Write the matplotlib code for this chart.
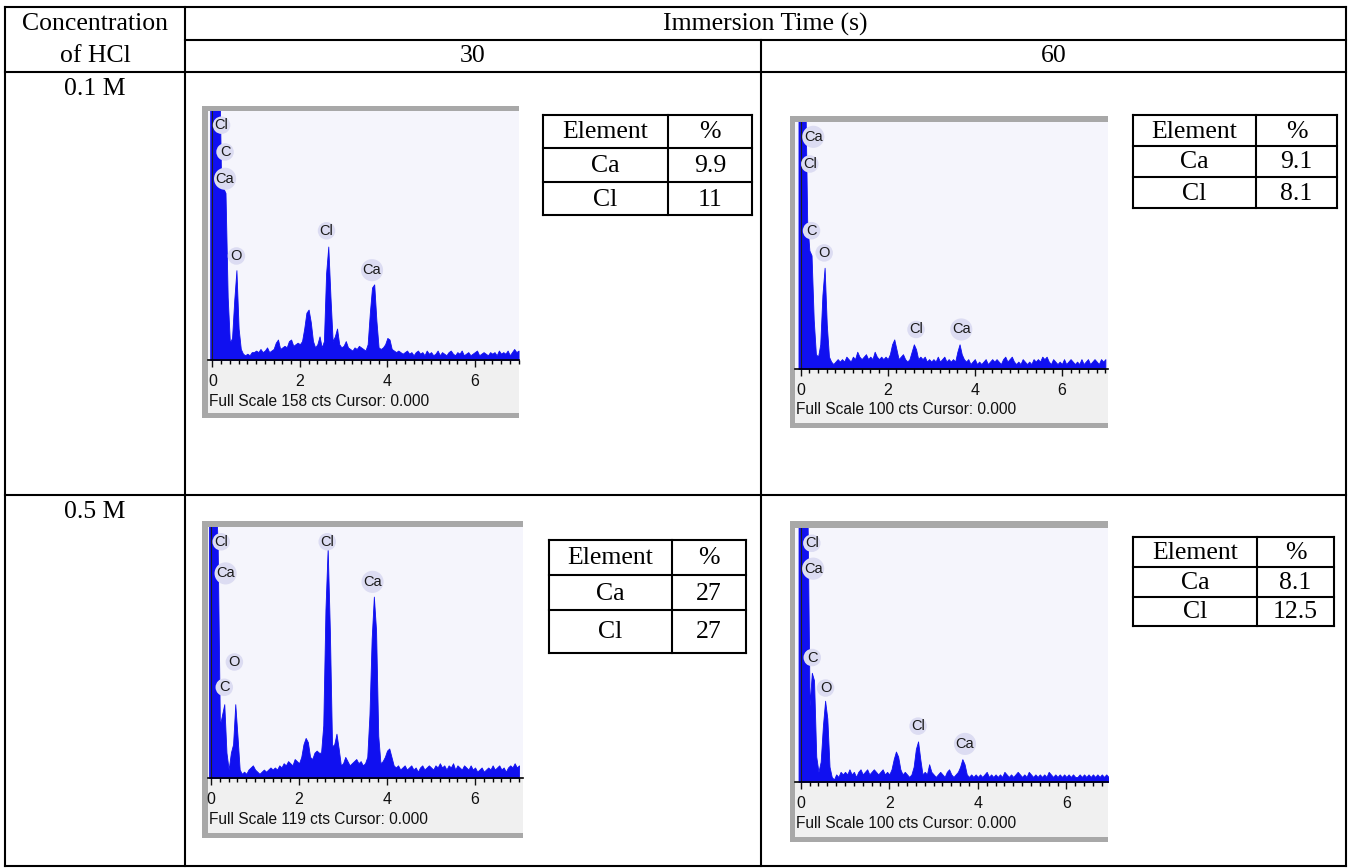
import numpy as np
import matplotlib
matplotlib.use('Agg')
import matplotlib.pyplot as plt
from matplotlib.patches import Rectangle
from matplotlib.ticker import MultipleLocator

# ---------------- data ----------------
row_labels = ["0.1 M", "0.5 M"]
col_labels = ["30", "60"]
header_left = ["Concentration", "of HCl"]
header_top = "Immersion Time (s)"

# element composition tables (%)
ca_pct = [["9.9", "9.1"], ["27", "8.1"]]
cl_pct = [["11", "8.1"], ["27", "12.5"]]

# full scale counts of each spectrum
full_scale = [[158, 100], [119, 100]]

# channel energies (keV)
energy = np.round(np.arange(-0.05, 7.0001, 0.05), 2)

spec_01_30 = [
    200, 200, 200, 200, 200, 112, 109, 106, 40, 11,
    14, 38, 57, 20, 7, 4, 3, 4, 3, 5,
    5, 6, 5, 7, 5, 6, 8, 5, 6, 7,
    11, 13, 7, 8, 9, 8, 12, 13, 9, 10,
    11, 10, 12, 20, 30, 32, 24, 12, 8, 10,
    15, 8, 12, 55, 72, 40, 12, 15, 20, 10,
    8, 9, 12, 8, 7, 6, 8, 7, 9, 8,
    7, 6, 10, 30, 46, 48, 25, 8, 7, 8,
    10, 14, 13, 7, 6, 5, 6, 5, 4, 5,
    6, 4, 5, 3, 5, 6, 4, 5, 3, 6,
    4, 5, 3, 4, 6, 3, 5, 4, 3, 5,
    6, 4, 3, 5, 4, 6, 3, 4, 5, 3,
    4, 5, 6, 3, 4, 5, 4, 3, 5, 4,
    5, 3, 6, 4, 5, 4, 6, 3, 5, 7,
    5, 6]

spec_01_60 = [
    120, 120, 120, 120, 60, 48, 46, 20, 6, 5,
    10, 30, 41, 18, 5, 3, 2, 3, 4, 3,
    4, 3, 5, 4, 3, 5, 4, 7, 5, 4,
    5, 6, 4, 5, 4, 7, 5, 4, 5, 4,
    5, 4, 6, 10, 12, 8, 4, 5, 6, 4,
    3, 4, 7, 10, 8, 4, 5, 4, 5, 3,
    4, 3, 4, 3, 5, 3, 4, 5, 3, 4,
    3, 4, 3, 7, 10, 6, 4, 3, 4, 2,
    3, 4, 2, 3, 2, 3, 4, 2, 3, 4,
    3, 4, 3, 2, 4, 5, 3, 4, 5, 3,
    2, 3, 2, 4, 3, 2, 3, 2, 4, 3,
    4, 3, 5, 4, 5, 3, 2, 4, 3, 2,
    3, 2, 4, 2, 3, 4, 3, 2, 3, 2,
    4, 2, 3, 4, 2, 3, 4, 3, 2, 4,
    3, 4]

spec_05_30 = [
    140, 140, 140, 140, 110, 25, 30, 35, 12, 4,
    12, 16, 35, 20, 4, 2, 3, 2, 4, 5,
    6, 4, 3, 2, 3, 4, 3, 4, 5, 4,
    5, 4, 6, 5, 7, 6, 8, 7, 6, 9,
    8, 7, 10, 16, 19, 17, 10, 9, 12, 13,
    12, 12, 25, 80, 109, 70, 15, 16, 21, 14,
    6, 7, 10, 8, 6, 7, 8, 9, 7, 8,
    6, 7, 10, 30, 66, 86, 70, 20, 7, 8,
    10, 13, 14, 10, 6, 5, 6, 4, 5, 6,
    4, 5, 6, 4, 5, 3, 5, 6, 4, 5,
    6, 5, 4, 6, 5, 7, 5, 6, 4, 6,
    5, 7, 4, 6, 5, 4, 6, 5, 4, 6,
    4, 5, 3, 4, 5, 3, 4, 5, 4, 6,
    4, 5, 6, 4, 5, 3, 5, 6, 5, 7,
    5, 6]

spec_05_60 = [
    120, 120, 120, 120, 110, 30, 43, 40, 10, 4,
    8, 22, 32, 25, 6, 2, 1, 3, 2, 4,
    3, 4, 3, 5, 3, 4, 2, 4, 5, 3,
    4, 5, 3, 4, 5, 4, 3, 4, 5, 3,
    4, 3, 5, 9, 12, 10, 5, 3, 4, 3,
    2, 3, 6, 13, 16, 9, 3, 4, 3, 7,
    4, 3, 2, 3, 4, 3, 2, 4, 5, 3,
    2, 3, 4, 6, 9, 7, 3, 2, 3, 2,
    3, 2, 3, 2, 3, 4, 2, 3, 2, 3,
    2, 3, 2, 4, 3, 2, 3, 2, 3, 4,
    3, 2, 3, 2, 4, 3, 2, 3, 2, 3,
    2, 3, 2, 4, 3, 2, 3, 2, 3, 2,
    3, 2, 3, 2, 3, 2, 2, 3, 2, 3,
    2, 3, 2, 3, 2, 3, 2, 3, 2, 3,
    2, 3]

spectra = [[spec_01_30, spec_01_60], [spec_05_30, spec_05_60]]

# peak labels (element, keV, counts)
labels_01_30 = [("Cl", 0.21, 149), ("C", 0.29, 132), ("Ca", 0.29, 115),
                ("O", 0.55, 66), ("Cl", 2.61, 82), ("Ca", 3.65, 57)]
labels_01_60 = [("Ca", 0.29, 94), ("Cl", 0.21, 83), ("C", 0.25, 56),
                ("O", 0.54, 47), ("Cl", 2.65, 16), ("Ca", 3.69, 16)]
labels_05_30 = [("Cl", 0.23, 112), ("Ca", 0.33, 97), ("O", 0.53, 55),
                ("C", 0.30, 43), ("Cl", 2.64, 112), ("Ca", 3.67, 93)]
labels_05_60 = [("Cl", 0.25, 94), ("Ca", 0.28, 84), ("C", 0.26, 49),
                ("O", 0.56, 37), ("Cl", 2.65, 22), ("Ca", 3.71, 15)]
peak_labels = [[labels_01_30, labels_01_60], [labels_05_30, labels_05_60]]

# ---------------- layout (pixels) ----------------
W, H = 1349, 868
fig = plt.figure(figsize=(W / 100, H / 100), dpi=100)
bg = fig.add_axes([0, 0, 1, 1])
bg.set_xlim(0, W)
bg.set_ylim(H, 0)
bg.axis('off')

SERIF = 'Liberation Serif'
SANS = 'Liberation Sans'
FS_T = 18.5
LW = 1.5
BLUE = '#1010f0'

L, R, T, B = 5, 1346, 7, 866
C1, C2 = 185, 761
Y1, Y2, Y3 = 40, 72, 495


def hline(y, x0, x1):
    bg.plot([x0, x1], [y, y], color='k', lw=LW, solid_capstyle='projecting')


def vline(x, y0, y1):
    bg.plot([x, x], [y0, y1], color='k', lw=LW, solid_capstyle='projecting')


hline(T, L, R)
hline(Y1, C1, R)
hline(Y2, L, R)
hline(Y3, L, R)
hline(B, L, R)
vline(L, T, B)
vline(R, T, B)
vline(C1, T, B)
vline(C2, Y1, B)

bg.text((L + C1) / 2, 24, header_left[0], fontsize=FS_T, family=SERIF, ha='center', va='center')
bg.text((L + C1) / 2, 56, header_left[1], fontsize=FS_T, family=SERIF, ha='center', va='center')
bg.text((C1 + R) / 2, 24, header_top, fontsize=FS_T, family=SERIF, ha='center', va='center')
bg.text((C1 + C2) / 2, 56, col_labels[0], fontsize=FS_T, family=SERIF, ha='center', va='center')
bg.text((C2 + R) / 2, 56, col_labels[1], fontsize=FS_T, family=SERIF, ha='center', va='center')
bg.text((L + C1) / 2, Y2 + 17, row_labels[0], fontsize=FS_T, family=SERIF, ha='center', va='center')
bg.text((L + C1) / 2, Y3 + 17, row_labels[1], fontsize=FS_T, family=SERIF, ha='center', va='center')

# small composition tables: x0, xsplit, x1, row lines
small_tables = [
    [(543, 668, 752, [115, 148, 182, 215]), (1133, 1256, 1337, [115, 146, 177, 208])],
    [(549, 672, 746, [540, 575, 610, 653]), (1133, 1257, 1334, [537, 567, 597, 626])],
]

for i in range(2):
    for j in range(2):
        x0, xs, x1, ys = small_tables[i][j]
        for y in ys:
            hline(y, x0, x1)
        for x in (x0, xs, x1):
            vline(x, ys[0], ys[-1])
        cells = [("Element", "%"), ("Ca", ca_pct[i][j]), ("Cl", cl_pct[i][j])]
        for k, (a, b) in enumerate(cells):
            yc = (ys[k] + ys[k + 1]) / 2 + 1
            bg.text((x0 + xs) / 2, yc, a, fontsize=FS_T, family=SERIF, ha='center', va='center')
            bg.text((xs + x1) / 2, yc, b, fontsize=FS_T, family=SERIF, ha='center', va='center')

# spectrum frames: frame (l, t, r, b), plot (left, top, baseline), xlim
frames = [
    [((202, 106, 519, 418), (208, 111, 360), (-0.10, 7.01)),
     ((790, 116, 1108, 428), (795, 122, 369), (-0.13, 7.06))],
    [((202, 521, 523, 838), (208, 527, 778), (-0.07, 7.09)),
     ((790, 521, 1108, 842), (795, 528, 782), (-0.13, 6.94))],
]

for i in range(2):
    for j in range(2):
        (fl, ft, fr, fb), (pl, pt, pb), xl = frames[i][j]
        bg.add_patch(Rectangle((fl, ft), fr - fl, fb - ft, fc='#a8a8a8', ec='none', zorder=1))
        bg.add_patch(Rectangle((pl, pt), fr - pl, (fb - 5) - pt, fc='#f0f0f0', ec='none', zorder=2))
        bg.text(pl + 1, pb + 41, f"Full Scale {full_scale[i][j]} cts Cursor: 0.000",
                fontsize=11.2, family=SANS, ha='left', va='center', color='#111111', zorder=3)

        ax = fig.add_axes([pl / W, 1 - pb / H, (fr - pl) / W, (pb - pt) / H])
        ax.set_facecolor('#f5f5fc')
        ax.fill_between(energy, 0, spectra[i][j], color=BLUE, lw=0.6, edgecolor=BLUE)
        ax.axvline(0, color='#202020', lw=0.8)
        ax.set_xlim(*xl)
        ax.set_ylim(0, full_scale[i][j])
        ax.set_yticks([])
        for s in ('left', 'right', 'top'):
            ax.spines[s].set_visible(False)
        ax.spines['bottom'].set_color('black')
        ax.spines['bottom'].set_linewidth(1.2)
        ax.xaxis.set_major_locator(MultipleLocator(2))
        ax.xaxis.set_minor_locator(MultipleLocator(0.2))
        ax.tick_params(axis='x', which='major', direction='out', length=5, width=1,
                       labelsize=11.5, pad=5, colors='#111111')
        ax.tick_params(axis='x', which='minor', direction='out', length=3, width=1)
        for lab in ax.get_xticklabels():
            lab.set_family(SANS)
        for name, ex, ey in peak_labels[i][j]:
            ax.text(ex, ey, name, ha='center', va='center', fontsize=10.5, family=SANS,
                    color='#1a1a1a', zorder=5,
                    bbox=dict(boxstyle='circle,pad=0.12', fc='#dcdcf2', ec='none'))

fig.savefig('out.png', dpi=100)
